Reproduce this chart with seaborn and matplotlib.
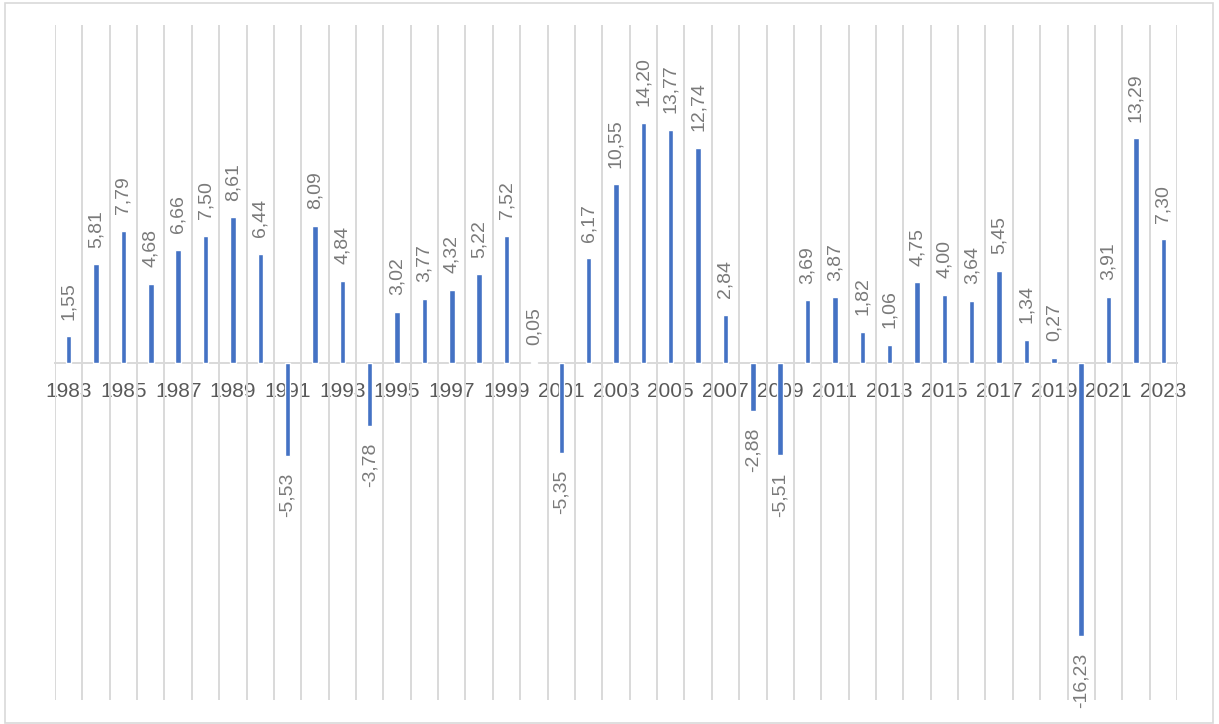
import matplotlib
matplotlib.use("Agg")
import matplotlib.pyplot as plt
import seaborn as sns
import pandas as pd
from matplotlib.patches import Rectangle

years = list(range(1983, 2024))
values = [1.55, 5.81, 7.79, 4.68, 6.66, 7.50, 8.61, 6.44, -5.53, 8.09,
          4.84, -3.78, 3.02, 3.77, 4.32, 5.22, 7.52, 0.05, -5.35, 6.17,
          10.55, 14.20, 13.77, 12.74, 2.84, -2.88, -5.51, 3.69, 3.87, 1.82,
          1.06, 4.75, 4.00, 3.64, 5.45, 1.34, 0.27, -16.23, 3.91, 13.29, 7.30]
tick_labels = [str(y) for y in years[::2]]

sns.set_theme(style="white")
plt.rcParams['font.family'] = ['Liberation Sans', 'DejaVu Sans']

df = pd.DataFrame({"year": [str(y) for y in years], "value": values})

fig = plt.figure(figsize=(12.19, 7.24), dpi=100)
ax = fig.add_axes([55/1219, 1 - 700/724, (1177-55)/1219, (700-25)/724])

sns.barplot(data=df, x="year", y="value", color="#4472C4", width=0.2,
            saturation=1, ax=ax, zorder=3)

ax.set_xlim(-0.5, len(years) - 0.5)
ax.set_ylim(-20, 20)

# vertical gridlines at category boundaries (minor ticks)
bounds = [b - 0.5 for b in range(len(years) + 1)]
ax.set_xticks(bounds, minor=True)
ax.grid(which="minor", axis="x", color="#D9D9D9", lw=1.4, zorder=1)
ax.grid(which="major", visible=False)
ax.set_axisbelow(True)

for s in ["top", "right", "left"]:
    ax.spines[s].set_visible(False)
ax.spines["bottom"].set_position(("data", 0))
ax.spines["bottom"].set_color("#D9D9D9")
ax.spines["bottom"].set_linewidth(1.4)
ax.spines["bottom"].set_zorder(2)

ax.set_xticks(range(0, len(years), 2))
ax.set_xticklabels(tick_labels)
ax.tick_params(axis="x", which="both", length=0)
ax.tick_params(axis="x", which="major", pad=14, labelsize=15, labelcolor="#595959")
ax.set_yticks([])
ax.set_xlabel("")
ax.set_ylabel("")

labels = [f"{v:.2f}".replace(".", ",") for v in values]
ax.bar_label(ax.containers[0], labels=labels, rotation=90, padding=12,
             fontsize=14, color="#7A7A7A")

fig.patches.append(Rectangle((5/1219, 1/724), 1208/1219, 720/724,
                             transform=fig.transFigure, fill=False,
                             edgecolor="#D9D9D9", lw=1.2))

fig.savefig("out.png", dpi=100)
